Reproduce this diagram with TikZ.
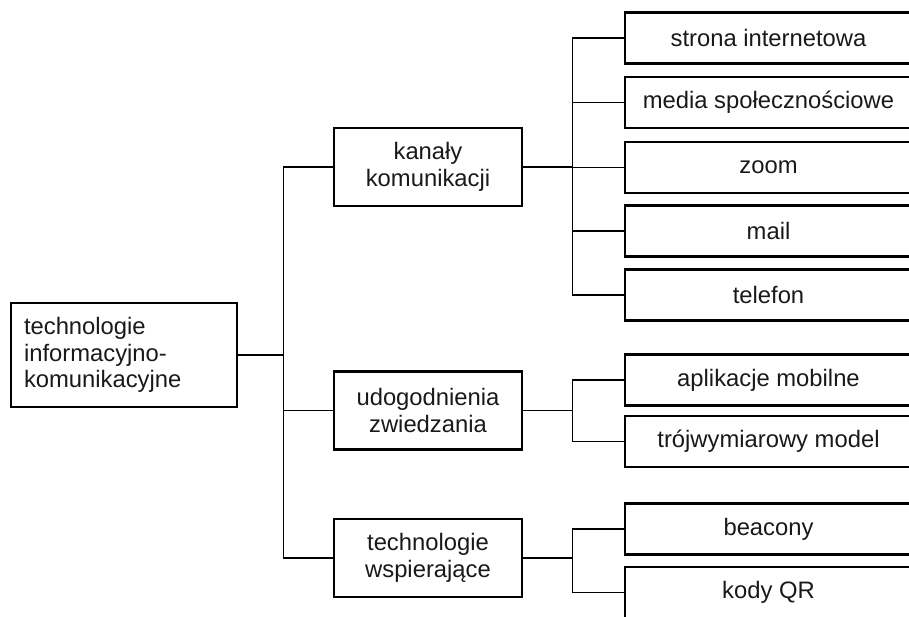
\documentclass[tikz,border=0pt]{standalone}
\usepackage{fontspec}
\setmainfont{Liberation Sans}
\begin{document}
\begin{tikzpicture}[x=1pt,y=-1pt,
  box/.style={draw=black, line width=2.6pt, rectangle, inner sep=0pt, text=black!90,
    font=\fontsize{23.8}{26.5}\selectfont},
  rootbox/.style={box, minimum width=226pt, minimum height=104pt, align=left, text width=200pt},
  midbox/.style={box, minimum width=188pt, minimum height=78pt, align=center},
  leafbox/.style={box, minimum width=287pt, minimum height=51pt},
  conn/.style={draw=black, line width=1.3pt}]
\useasboundingbox (0,0) rectangle (909,617);
\node[rootbox] (root) at (124,355) {technologie\\informacyjno-\\komunikacyjne};
\node[midbox] (kan) at (428,167) {kanały\\komunikacji};
\node[midbox] (udo) at (428,410.5) {udogodnienia\\zwiedzania};
\node[midbox] (tw) at (428,558) {technologie\\wspierające};
\node[leafbox] (l1) at (768.5,38) {strona internetowa};
\node[leafbox] (l2) at (768.5,102.5) {media społecznościowe};
\node[leafbox] (l3) at (768.5,167.5) {zoom};
\node[leafbox] (l4) at (768.5,231) {mail};
\node[leafbox] (l5) at (768.5,295) {telefon};
\node[leafbox] (l6) at (768.5,380) {aplikacje mobilne};
\node[leafbox] (l7) at (768.5,441.5) {trójwymiarowy model};
\node[leafbox] (l8) at (768.5,529) {beacony};
\node[leafbox] (l9) at (768.5,592.5) {kody QR};
% trunk
\draw[conn] (kan.west) -- ++(-49,0) coordinate (tA) -- (tA |- tw.west) -- (tw.west);
\draw[conn] (root.east) -- (root.east -| tA);
\draw[conn] (udo.west) -- (udo.west -| tA);
% bus 1
\draw[conn] (l1.west) -- ++(-51,0) coordinate (b1) -- (b1 |- l5.west) -- (l5.west);
\draw[conn] (l2.west) -- (l2.west -| b1);
\draw[conn] (l3.west) -- (l3.west -| b1);
\draw[conn] (l4.west) -- (l4.west -| b1);
\draw[conn] (kan.east) -- (kan.east -| b1);
% bus 2
\draw[conn] (l6.west) -- ++(-51,0) coordinate (b2) -- (b2 |- l7.west) -- (l7.west);
\draw[conn] (udo.east) -- (udo.east -| b2);
% bus 3
\draw[conn] (l8.west) -- ++(-51,0) coordinate (b3) -- (b3 |- l9.west) -- (l9.west);
\draw[conn] (tw.east) -- (tw.east -| b3);
\end{tikzpicture}
\end{document}
